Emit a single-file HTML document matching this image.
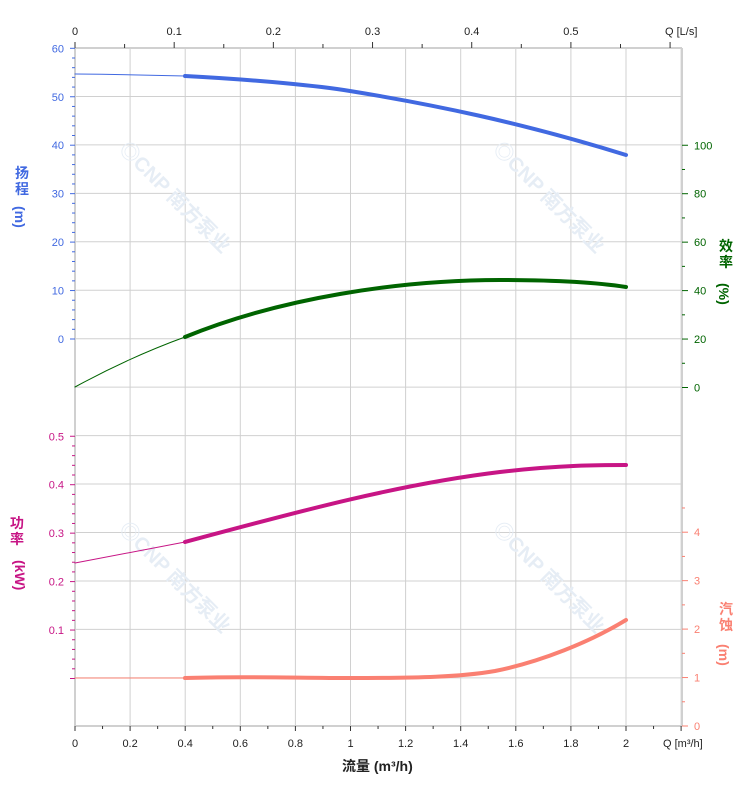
<!DOCTYPE html>
<html><head><meta charset="utf-8"><style>
body{margin:0;background:#fff}
svg{display:block;font-family:"Liberation Sans","Noto Sans CJK SC",sans-serif}
</style></head><body>
<svg id="s" width="752" height="797" viewBox="0 0 752 797" xmlns="http://www.w3.org/2000/svg">
<g id="grid" stroke="#d0d0d0" stroke-width="1" fill="none"></g>
<g id="wm" fill="#e6edf5" font-size="20" font-weight="bold">
<text transform="translate(118,150) rotate(45)">◎CNP 南方泵业</text>
<text transform="translate(492,150) rotate(45)">◎CNP 南方泵业</text>
<text transform="translate(118,530) rotate(45)">◎CNP 南方泵业</text>
<text transform="translate(492,530) rotate(45)">◎CNP 南方泵业</text>
</g>
<g id="ax"></g>
<g fill="none" stroke-linecap="round">
<path d="M75,74 Q130,74.5 185,76" stroke="#4169E1" stroke-width="1"/>
<path d="M185,76 C260,80 320,86 350,91 C430,104 520,122 626,155" stroke="#4169E1" stroke-width="4"/>
<path d="M75,387 Q130,357 185,337" stroke="#006400" stroke-width="1"/>
<path d="M185,337 C280,298 400,280 500,280 C560,280 600,283 626,287" stroke="#006400" stroke-width="4"/>
<path d="M75,563 L185,542" stroke="#C71585" stroke-width="1"/>
<path d="M185,542 C300,511 400,484 500,472 C560,465 600,465 626,465" stroke="#C71585" stroke-width="4"/>
<path d="M75,678 L185,678" stroke="#FA8072" stroke-width="1"/>
<path d="M185,678 C240,676 300,678 350,678 C420,678 460,677 495,671 C540,662 590,642 626,620" stroke="#FA8072" stroke-width="4"/>
</g>
<g font-size="14" font-weight="bold">
<text x="15" y="178" fill="#4169E1">扬</text><text x="15" y="194" fill="#4169E1">程</text>
<text x="15" y="218" fill="#4169E1" transform="rotate(90 21 212)">(m)</text>
<text x="10" y="528" fill="#C71585">功</text><text x="10" y="544" fill="#C71585">率</text>
<text x="10" y="573" fill="#C71585" transform="rotate(90 19 569)">(kW)</text>
<text x="719" y="251" fill="#006400">效</text><text x="719" y="267" fill="#006400">率</text>
<text x="719" y="295" fill="#006400" transform="rotate(90 725 289)">(%)</text>
<text x="719" y="614" fill="#FA8072">汽</text><text x="719" y="630" fill="#FA8072">蚀</text>
<text x="719" y="656" fill="#FA8072" transform="rotate(90 725 650)">(m)</text>
<text x="342" y="771" fill="#222">流量 (m³/h)</text>
</g>
</svg>
<script>
const NS="http://www.w3.org/2000/svg";
function el(p,t,a,txt){const e=document.createElementNS(NS,t);for(const k in a)e.setAttribute(k,a[k]);if(txt!==undefined)e.textContent=txt;p.appendChild(e);return e;}
const g=document.getElementById('grid'),ax=document.getElementById('ax');
const X=q=>75+q*275.5;
for(let i=0;i<=11;i++){el(g,'line',{x1:X(i*0.2),y1:48,x2:X(i*0.2),y2:726});}
for(let i=0;i<=14;i++){const y=48+i*48.45;el(g,'line',{x1:75,y1:y,x2:682,y2:y});}
el(g,'line',{x1:682,y1:48,x2:682,y2:726,stroke:'#d0d0d0','stroke-width':2});
el(g,'line',{x1:75,y1:48,x2:682,y2:48,stroke:'#d0d0d0','stroke-width':2});
el(g,'line',{x1:75,y1:726,x2:682,y2:726,stroke:'#d0d0d0','stroke-width':2});
el(g,'line',{x1:75,y1:48,x2:75,y2:726,stroke:'#d0d0d0','stroke-width':2});
for(let i=0;i<=22;i++){const x=X(i*0.1);el(ax,'line',{x1:x,y1:726,x2:x,y2:i%2?729:731,stroke:'#333'});}
for(let i=0;i<=10;i++){const v=i*0.2;el(ax,'text',{x:X(v),y:747,'font-size':11,'text-anchor':'middle',fill:'#222'},(+v.toFixed(1)).toString());}
el(ax,'text',{x:663,y:747,'font-size':11,fill:'#222'},'Q [m³/h]');
for(let i=0;i<=12;i++){const x=75+i*0.05*3.6*275.5;if(x>683)break;el(ax,'line',{x1:x,y1:48,x2:x,y2:i%2?44:42,stroke:'#333'});}
for(let i=0;i<=5;i++){el(ax,'text',{x:75+i*0.1*991.8,y:35,'font-size':11,'text-anchor':'middle',fill:'#222'},i?('0.'+i):'0');}
el(ax,'text',{x:665,y:35,'font-size':11,fill:'#222'},'Q [L/s]');
for(let v=0;v<=60;v+=2){const y=339-v*4.845;el(ax,'line',{x1:75,y1:y,x2:v%10?72:70,y2:y,stroke:'#4169E1'});if(v%10==0)el(ax,'text',{x:64,y:y+4,'font-size':11,'text-anchor':'end',fill:'#4169E1'},v);}
for(let i=0;i<=25;i++){const v=i*0.02,y=678.5-v*484.5;el(ax,'line',{x1:75,y1:y,x2:i%5?72:70,y2:y,stroke:'#C71585'});if(i%5==0&&i>0)el(ax,'text',{x:64,y:y+4,'font-size':11,'text-anchor':'end',fill:'#C71585'},v.toFixed(1));}
for(let v=0;v<=100;v+=10){const y=387.5-v*2.4225;el(ax,'line',{x1:682,y1:y,x2:v%20?685:688,y2:y,stroke:'#006400'});if(v%20==0)el(ax,'text',{x:694,y:y+4,'font-size':11,fill:'#006400'},v);}
for(let i=0;i<=9;i++){const v=i*0.5,y=726-v*48.45;el(ax,'line',{x1:682,y1:y,x2:i%2?685:688,y2:y,stroke:'#FA8072'});if(i%2==0)el(ax,'text',{x:694,y:y+4,'font-size':11,fill:'#FA8072'},v);}
</script>
</body></html>
